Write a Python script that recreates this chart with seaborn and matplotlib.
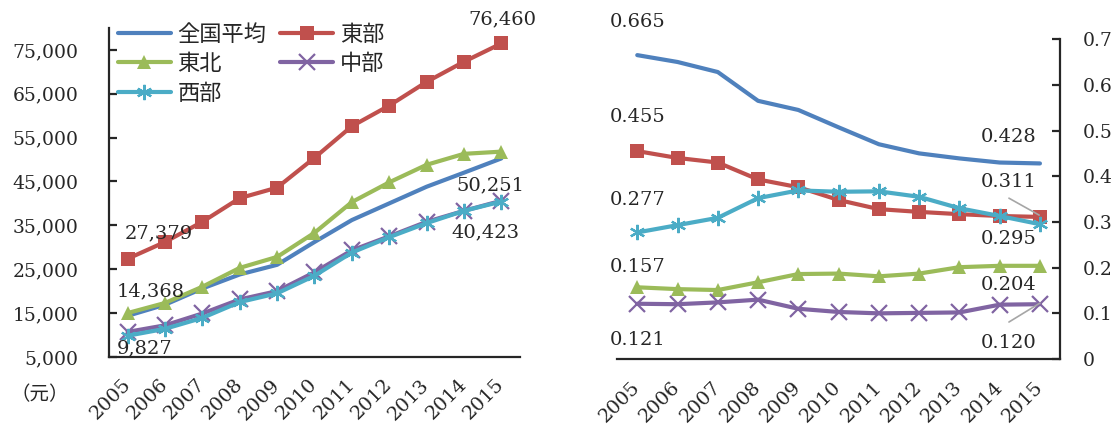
import numpy as np
import pandas as pd
import matplotlib
matplotlib.use('Agg')
import matplotlib.pyplot as plt
from matplotlib.ticker import FuncFormatter
import seaborn as sns

# data
years = list(range(2005, 2016))
labels = ['全国平均', '東部', '東北', '中部', '西部']

gdp_national = [14368, 16900, 20600, 23800, 26000, 31200, 36200, 40000, 43800, 47000, 50251]
gdp_east = [27379, 31200, 35800, 41200, 43600, 50400, 57600, 62300, 67700, 72300, 76460]
gdp_northeast = [15000, 17300, 21000, 25300, 27800, 33300, 40300, 44800, 48800, 51300, 51800]
gdp_central = [10700, 12200, 14900, 18100, 20000, 24300, 29300, 32500, 35800, 38300, 40600]
gdp_west = [9827, 11400, 13900, 17500, 19500, 23500, 28800, 32300, 35500, 38300, 40423]

gini_national = [0.665, 0.650, 0.628, 0.565, 0.545, 0.507, 0.470, 0.450, 0.439, 0.430, 0.428]
gini_east = [0.455, 0.440, 0.430, 0.393, 0.376, 0.348, 0.328, 0.322, 0.317, 0.313, 0.311]
gini_northeast = [0.157, 0.153, 0.151, 0.168, 0.186, 0.187, 0.181, 0.187, 0.201, 0.204, 0.204]
gini_central = [0.121, 0.120, 0.124, 0.130, 0.110, 0.103, 0.100, 0.101, 0.102, 0.119, 0.120]
gini_west = [0.277, 0.293, 0.309, 0.352, 0.369, 0.366, 0.367, 0.355, 0.330, 0.313, 0.295]

colors = ['#4F81BD', '#C0504D', '#9BBB59', '#8064A2', '#4BACC6']
markers = [None, 's', '^', 'x', (6, 2, 0)]
msizes = [0, 10, 10, 11, 11]

sns.set_theme(style='white')
plt.rcParams['font.family'] = ['DejaVu Serif', 'Noto Sans CJK JP']
plt.rcParams['axes.linewidth'] = 1.6

fig = plt.figure(figsize=(11.2, 4.3), dpi=100)
ax1 = fig.add_axes([0.0973, 0.170, 0.367, 0.765])
ax2 = fig.add_axes([0.551, 0.165, 0.3955, 0.744])


def draw(ax, series):
    handles = []
    for name, vals, c, m, ms in zip(labels, series, colors, markers, msizes):
        sns.lineplot(x=years, y=vals, ax=ax, color=c, marker=m, markersize=ms,
                     markeredgewidth=1.6 if m in ('x', (6, 2, 0)) else 0,
                     markeredgecolor=c, lw=3, label=name, legend=False)
        handles.append(ax.lines[-1])
    return handles


h = draw(ax1, [gdp_national, gdp_east, gdp_northeast, gdp_central, gdp_west])
draw(ax2, [gini_national, gini_east, gini_northeast, gini_central, gini_west])

# left panel
ax1.set_xlim(2004.5, 2015.5)
ax1.set_ylim(5000, 80000)
ax1.set_yticks(range(5000, 80000, 10000))
ax1.yaxis.set_major_formatter(FuncFormatter(lambda v, p: f'{int(v):,}'))
ax1.spines[['top', 'right']].set_visible(False)
ax1.tick_params(axis='y', direction='in', length=6, width=1.6, pad=22, labelsize=13.5, left=True)

# right panel
ax2.set_xlim(2004.5, 2015.5)
ax2.set_ylim(0, 0.7)
ax2.set_yticks(np.arange(0, 0.71, 0.1))
ax2.yaxis.set_major_formatter(FuncFormatter(lambda v, p: '0' if abs(v) < 1e-9 else f'{v:.1f}'))
ax2.yaxis.tick_right()
ax2.spines[['top', 'left']].set_visible(False)
ax2.tick_params(axis='y', direction='in', length=6, width=1.6, pad=16, labelsize=13.5, right=True)

for ax in (ax1, ax2):
    ax.set_xticks(years)
    ax.set_xticklabels([str(y) for y in years], rotation=45, ha='right', va='center',
                       rotation_mode='anchor')
    ax.tick_params(axis='x', length=0, pad=18, labelsize=14)
    ax.set_xlabel('')
    ax.set_ylabel('')
    ax.grid(False)

# value labels
kw = dict(fontsize=14, ha='center', va='center', clip_on=False)
ax1.text(2015.03, 82068, '76,460', **kw)
ax1.text(2005.83, 33270, '27,379', **kw)
ax1.text(2005.62, 20050, '14,368', **kw)
ax1.text(2005.46, 7050, '9,827', **kw)
ax1.text(2014.7, 44220, '50,251', **kw)
ax1.text(2014.58, 33500, '40,423', **kw)

ax2.text(2005.02, 0.737, '0.665', **kw)
ax2.text(2005.02, 0.529, '0.455', **kw)
ax2.text(2005.02, 0.348, '0.277', **kw)
ax2.text(2005.02, 0.201, '0.157', **kw)
ax2.text(2005.02, 0.042, '0.121', **kw)
ax2.text(2014.23, 0.486, '0.428', **kw)
ax2.text(2014.23, 0.387, '0.311', **kw)
ax2.text(2014.23, 0.263, '0.295', **kw)
ax2.text(2014.23, 0.162, '0.204', **kw)
ax2.text(2014.23, 0.035, '0.120', **kw)
ax2.plot([2014.23, 2014.98], [0.352, 0.315], color='#A6A6A6', lw=1.2)
ax2.plot([2014.23, 2015.0], [0.081, 0.1225], color='#A6A6A6', lw=1.2)

# legend: column-major order so rows read 全国平均/東部, 東北/中部, 西部
order = [0, 2, 4, 1, 3]
ax1.legend([h[i] for i in order], [labels[i] for i in order], ncol=2, loc='upper left',
           bbox_to_anchor=(0.01, 1.03), frameon=False, handlelength=2.4,
           handletextpad=0.3, columnspacing=0.6, labelspacing=0.3, borderaxespad=0,
           borderpad=0.2, prop={'family': 'Noto Sans CJK JP', 'size': 16})

fig.text(40 / 1120, 1 - 395 / 430, '（元）', fontsize=14, ha='center', va='center',
         family=['Noto Sans CJK JP'])

fig.savefig('out.png', dpi=100)
